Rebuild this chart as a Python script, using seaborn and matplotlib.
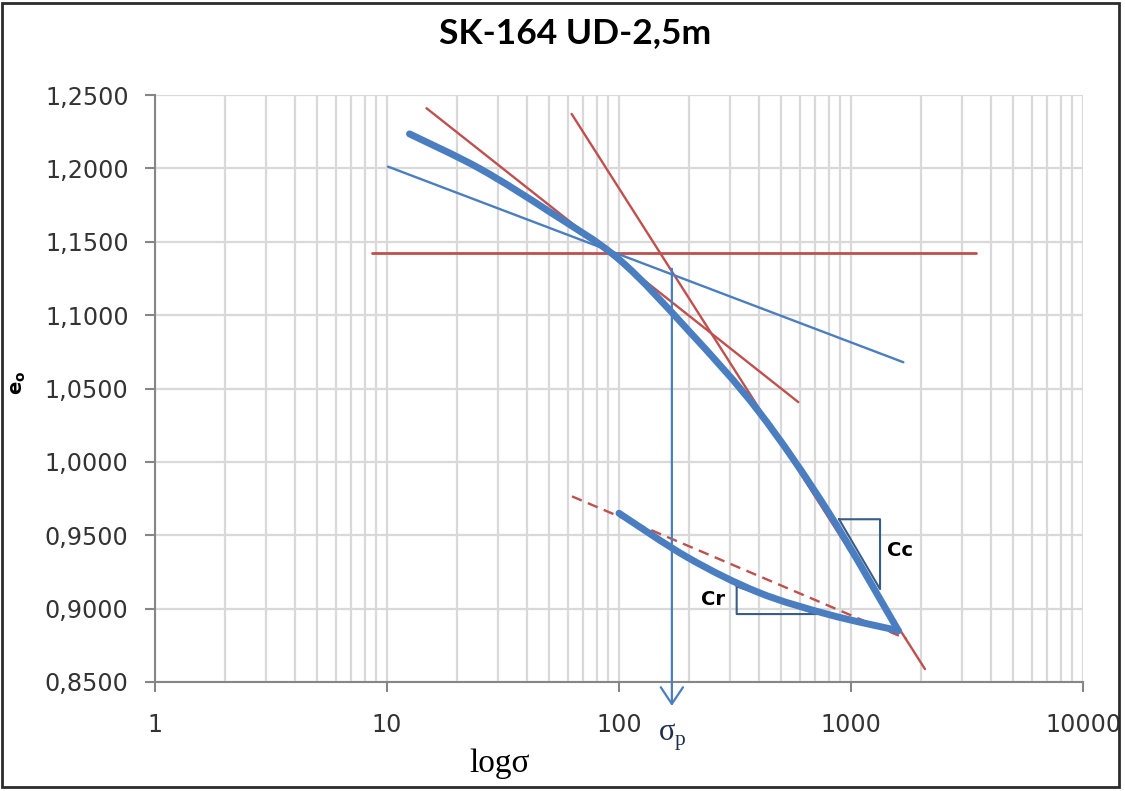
import numpy as np
import matplotlib
matplotlib.use("Agg")
import matplotlib.pyplot as plt
import seaborn as sns
from matplotlib.ticker import FixedLocator, FuncFormatter, LogLocator, NullFormatter
from matplotlib.patches import Rectangle, PathPatch
from matplotlib.path import Path

# ---- oedometer test data (vertical stress in kPa, void ratio) ----
load_sigma = [12.5, 25, 50, 100, 200, 400, 800, 1600]
load_e = [1.2235, 1.2000, 1.1706, 1.1380, 1.0892, 1.0344, 0.9656, 0.8850]

unload_sigma = [1600, 800, 400, 200, 100]
unload_e = [0.8850, 0.8960, 0.9110, 0.9344, 0.9650]

# ---- Casagrande construction lines (end points) ----
horiz_sigma = [8.6, 3460]
horiz_e = [1.1423, 1.1423]

bisector_sigma = [14.8, 593]
bisector_e = [1.2410, 1.0407]

tangent_sigma = [10.1, 1681]
tangent_e = [1.2012, 1.0679]

virgin_sigma = [62.5, 2084]
virgin_e = [1.2371, 0.8588]

rebound_sigma = [62.7, 1738]
rebound_e = [0.9765, 0.8793]

# slope triangles
cc_tri_sigma = [888, 1334, 1334, 888]
cc_tri_e = [0.9609, 0.9609, 0.9133, 0.9609]
cr_tri_sigma = [321.5, 321.5, 711, 321.5]
cr_tri_e = [0.9151, 0.8963, 0.8963, 0.9151]

# preconsolidation pressure marker
sigma_p = 169
sigma_p_top = 1.1316
sigma_p_tip = 0.8337

x_ticks = [1, 10, 100, 1000, 10000]
y_ticks = [0.85, 0.90, 0.95, 1.00, 1.05, 1.10, 1.15, 1.20, 1.25]

BLUE = "#4A7EC0"
RED = "#C0504D"
NAVY = "#385D8A"
GRID = "#D9D9D9"
AXIS = "#868686"
TXT = "#333333"


def smoothed_curve(xs, ys):
    """Catmull-Rom style Bezier through the points, built in log10(x) space."""
    pts = np.column_stack([np.log10(xs), ys])
    n = len(pts)
    verts = [pts[0]]
    codes = [Path.MOVETO]
    for i in range(n - 1):
        p0 = pts[i - 1] if i > 0 else pts[i]
        p1, p2 = pts[i], pts[i + 1]
        p3 = pts[i + 2] if i + 2 < n else pts[i + 1]
        verts += [p1 + (p2 - p0) / 6.0, p2 - (p3 - p1) / 6.0, p2]
        codes += [Path.CURVE4] * 3
    verts = np.array(verts)
    verts[:, 0] = 10 ** verts[:, 0]
    return Path(verts, codes)


sns.set_theme(style="white")
plt.rcParams["font.family"] = ["DejaVu Sans"]

fig = plt.figure(figsize=(11.25, 7.91), dpi=100)
ax = fig.add_axes([155 / 1125, 109 / 791, 928 / 1125, 587 / 791])

ax.set_xscale("log")
ax.set_xlim(1, 10000)
ax.set_ylim(0.85, 1.25)

# grid
ax.xaxis.set_major_locator(FixedLocator(x_ticks))
ax.xaxis.set_minor_locator(LogLocator(base=10, subs=range(2, 10), numticks=20))
ax.xaxis.set_major_formatter(FuncFormatter(lambda v, _: f"{int(round(v))}"))
ax.xaxis.set_minor_formatter(NullFormatter())
ax.yaxis.set_major_locator(FixedLocator(y_ticks))
ax.yaxis.set_major_formatter(FuncFormatter(lambda v, _: f"{v:.4f}".replace(".", ",")))
ax.grid(True, axis="x", which="both", color=GRID, lw=1.6)
ax.grid(True, axis="y", which="major", color=GRID, lw=1.6)
ax.set_axisbelow(True)

for side in ("top", "right"):
    ax.spines[side].set_visible(False)
for side in ("left", "bottom"):
    ax.spines[side].set_color(AXIS)
    ax.spines[side].set_linewidth(1.5)

ax.tick_params(axis="y", which="major", direction="out", length=7, width=1.5,
               color=AXIS, pad=12, labelsize=17.2, labelcolor=TXT, left=True)
ax.tick_params(axis="x", which="major", direction="out", length=7, width=1.5,
               color=AXIS, pad=15, labelsize=17.2, labelcolor=TXT, bottom=True)
ax.tick_params(axis="x", which="minor", length=0)

# construction lines
thin = dict(ax=ax, estimator=None, sort=False, legend=False)
sns.lineplot(x=horiz_sigma, y=horiz_e, color=RED, lw=2.0, **thin)
sns.lineplot(x=bisector_sigma, y=bisector_e, color=RED, lw=1.7, **thin)
sns.lineplot(x=virgin_sigma, y=virgin_e, color=RED, lw=1.7, **thin)
sns.lineplot(x=tangent_sigma, y=tangent_e, color=BLUE, lw=1.7, **thin)
sns.lineplot(x=rebound_sigma, y=rebound_e, color=RED, lw=1.7, dashes=False,
             linestyle=(0, (4.5, 2.8)), **thin)

# compression and rebound curves (smoothed)
for xs, ys in ((load_sigma, load_e), (unload_sigma, unload_e)):
    ax.add_patch(PathPatch(smoothed_curve(xs, ys), fill=False, edgecolor=BLUE,
                           lw=5.0, capstyle="round", joinstyle="round", zorder=3))

# slope triangles
sns.lineplot(x=cc_tri_sigma, y=cc_tri_e, color=NAVY, lw=1.5, **thin)
sns.lineplot(x=cr_tri_sigma, y=cr_tri_e, color=NAVY, lw=1.5, **thin)
ax.text(1626, 0.9398, "Cc", fontsize=14, fontweight="bold", color="black",
        ha="center", va="center")
ax.text(254, 0.9065, "Cr", fontsize=14, fontweight="bold", color="black",
        ha="center", va="center")

# preconsolidation pressure arrow
ax.annotate("", xy=(sigma_p, sigma_p_tip), xytext=(sigma_p, sigma_p_top),
            xycoords="data", textcoords="data", annotation_clip=False,
            arrowprops=dict(arrowstyle="->,head_length=0.6,head_width=0.4",
                            color=BLUE, lw=1.6, mutation_scale=20,
                            shrinkA=0, shrinkB=0))
ax.text(sigma_p, 0.8125, "σ$_\\mathregular{p}$", family="Liberation Serif",
        fontsize=22, color="#1F2D50", ha="center", va="center", clip_on=False)

# titles and axis labels
fig.text(575 / 1125, 1 - 33 / 791, "SK-164 UD-2,5m", family="Lato",
         fontweight="bold", fontsize=25.5, color="black", ha="center", va="center")
fig.text(500 / 1125, 1 - 764 / 791, "logσ", family="Liberation Serif",
         fontsize=24, color="black", ha="center", va="center")
fig.text(19 / 1125, 1 - 383 / 791, "e$_\\mathregular{o}$", fontsize=14,
         fontweight="bold", color="black", rotation=90, ha="center", va="center")

# outer frame
fig.patches.append(Rectangle((2 / 1125, 4 / 791), 1117 / 1125, 784 / 791,
                             transform=fig.transFigure, fill=False,
                             edgecolor="#2B2B2B", lw=2))

fig.savefig("out.png", dpi=100)
